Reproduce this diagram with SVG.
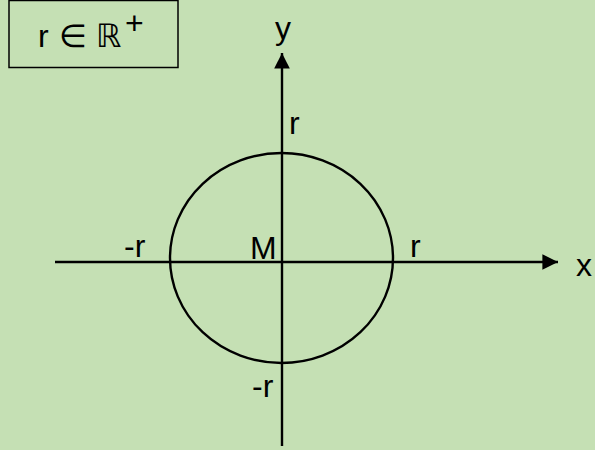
<svg xmlns="http://www.w3.org/2000/svg" width="595" height="450" viewBox="0 0 595 450">
<style>
.lbl{font-family:"Liberation Sans","DejaVu Sans",sans-serif;font-size:32px;fill:#000}
.ax{stroke:#000;stroke-width:2.4;fill:none}
</style>
<defs>
<marker id="arr" viewBox="0 0 10 10" refX="10" refY="5" markerWidth="6.5" markerHeight="7" markerUnits="strokeWidth" orient="auto">
<path d="M0,0 L10,5 L0,10 z" fill="#000"/>
</marker>
</defs>
<rect width="595" height="450" fill="#C5E0B4"/>
<g id="domain-box">
<rect x="9" y="0.5" width="169" height="67" fill="none" stroke="#000" stroke-width="1.5"/>
<text class="lbl" x="38" y="47" font-size="40">r</text>
<text class="lbl" x="59" y="47" font-size="32">∈</text>
<text class="lbl" x="96" y="47" font-size="40">ℝ</text>
<text class="lbl" x="125" y="34" font-size="34">+</text>
</g>
<g id="connectors">
<line class="ax" x1="55" y1="262" x2="558" y2="262" marker-end="url(#arr)"/>
<line class="ax" x1="282" y1="446" x2="282" y2="53" marker-end="url(#arr)"/>
</g>
<g id="circle">
<ellipse cx="281.5" cy="258" rx="111.5" ry="105" fill="none" stroke="#000" stroke-width="2.4"/>
</g>
<g id="labels">
<text class="lbl" x="283" y="39" text-anchor="middle">y</text>
<text class="lbl" x="576" y="276">x</text>
<text class="lbl" x="250" y="259">M</text>
<text class="lbl" x="289" y="134">r</text>
<text class="lbl" x="410" y="257">r</text>
<text class="lbl" x="124" y="257">-r</text>
<text class="lbl" x="252" y="397">-r</text>
</g>
</svg>
